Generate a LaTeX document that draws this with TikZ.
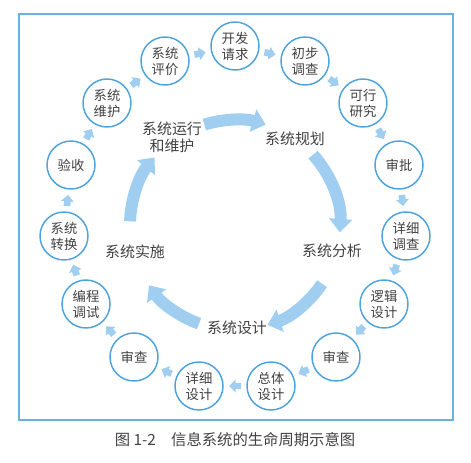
\documentclass[tikz,border=0pt]{standalone}
\usepackage{fontspec}
\setmainfont{Noto Sans CJK SC}
\usetikzlibrary{arrows.meta}

\definecolor{ringblue}{RGB}{78,163,220}
\definecolor{flowblue}{RGB}{160,206,240}
\definecolor{inkgray}{RGB}{65,65,65}

\begin{document}
\begin{tikzpicture}[
  x=0.75pt, y=0.75pt,
  font=\fontsize{10}{12}\selectfont, text=inkgray,
  stage/.style={
    draw=ringblue, circle, fill=white, align=center, inner sep=0pt,
    minimum size=36pt, line width=1.1pt,
  },
  phase/.style={align=center, font=\fontsize{11.2}{12.5}\selectfont},
  smallflow/.style={
    -{Triangle[length=5pt, width=9.5pt]}, draw=flowblue, line width=5pt,
    shorten <=4pt, shorten >=4pt,
  },
  bigflow/.style={-{Triangle[length=10pt, width=17pt]}, draw=flowblue, line width=9pt},
]
\useasboundingbox (0,0) rectangle (471,462);

% ---- Frame round the figure ---------------------------------------------
\draw[draw=ringblue!85, line width=1.1pt] (19,42) rectangle (453,448);

% ---- Outer ring: the fifteen detailed steps ------------------------------
\node[stage] (kaifa)     at (235,416) {开发\\请求};
\node[stage] (chubu)     at (305,401) {初步\\调查};
\node[stage] (kexing)    at (363,359) {可行\\研究};
\node[stage] (shenpi)    at (399,297) {审批};
\node[stage] (xxdiaocha) at (406,226) {详细\\调查};
\node[stage] (luoji)     at (384,158) {逻辑\\设计};
\node[stage] (shenchaA)  at (336,105) {审查};
\node[stage] (zongti)    at (271, 76) {总体\\设计};
\node[stage] (xxsheji)   at (199, 76) {详细\\设计};
\node[stage] (shenchaB)  at (134,105) {审查};
\node[stage] (biancheng) at ( 86,158) {编程\\调试};
\node[stage] (zhuanhuan) at ( 64,226) {系统\\转换};
\node[stage] (yanshou)   at ( 71,297) {验收};
\node[stage] (weihu)     at (107,359) {系统\\维护};
\node[stage] (pingjia)   at (165,401) {系统\\评价};

% ---- Short arrows, clockwise round the ring -----------------------------
\draw[smallflow] (kaifa) -- (chubu);
\draw[smallflow] (chubu) -- (kexing);
\draw[smallflow] (kexing) -- (shenpi);
\draw[smallflow] (shenpi) -- (xxdiaocha);
\draw[smallflow] (xxdiaocha) -- (luoji);
\draw[smallflow] (luoji) -- (shenchaA);
\draw[smallflow] (shenchaA) -- (zongti);
\draw[smallflow] (zongti) -- (xxsheji);
\draw[smallflow] (xxsheji) -- (shenchaB);
\draw[smallflow] (shenchaB) -- (biancheng);
\draw[smallflow] (biancheng) -- (zhuanhuan);
\draw[smallflow] (zhuanhuan) -- (yanshou);
\draw[smallflow] (yanshou) -- (weihu);
\draw[smallflow] (weihu) -- (pingjia);
\draw[smallflow] (pingjia) -- (kaifa);

% ---- Inner cycle: the five phases ---------------------------------------
\coordinate (hub) at (235,237);
\node[phase] (guihua)  at (295,323) {系统规划};
\node[phase] (fenxi)   at (332,211) {系统分析};
\node[phase] (sheji)   at (237,134) {系统设计};
\node[phase] (shishi)  at (135,210) {系统实施};
\node[phase] (yunxing) at (172,325) {系统运行\\和维护};

\draw[bigflow] ([shift={(107:105)}]hub) arc[start angle=107, end angle=73, radius=105];
\draw[bigflow] ([shift={(42:105)}]hub) arc[start angle=42, end angle=-4, radius=105];
\draw[bigflow] ([shift={(-34:105)}]hub) arc[start angle=-34, end angle=-72, radius=105];
\draw[bigflow] ([shift={(-110:105)}]hub) arc[start angle=-110, end angle=-145, radius=105];
\draw[bigflow] ([shift={(178:105)}]hub) arc[start angle=178, end angle=140, radius=105];

% ---- Caption ------------------------------------------------------------
\node[font=\fontsize{11.5}{13}\selectfont] (caption) at (235,22)
  {图 1-2\quad 信息系统的生命周期示意图};

\end{tikzpicture}
\end{document}
